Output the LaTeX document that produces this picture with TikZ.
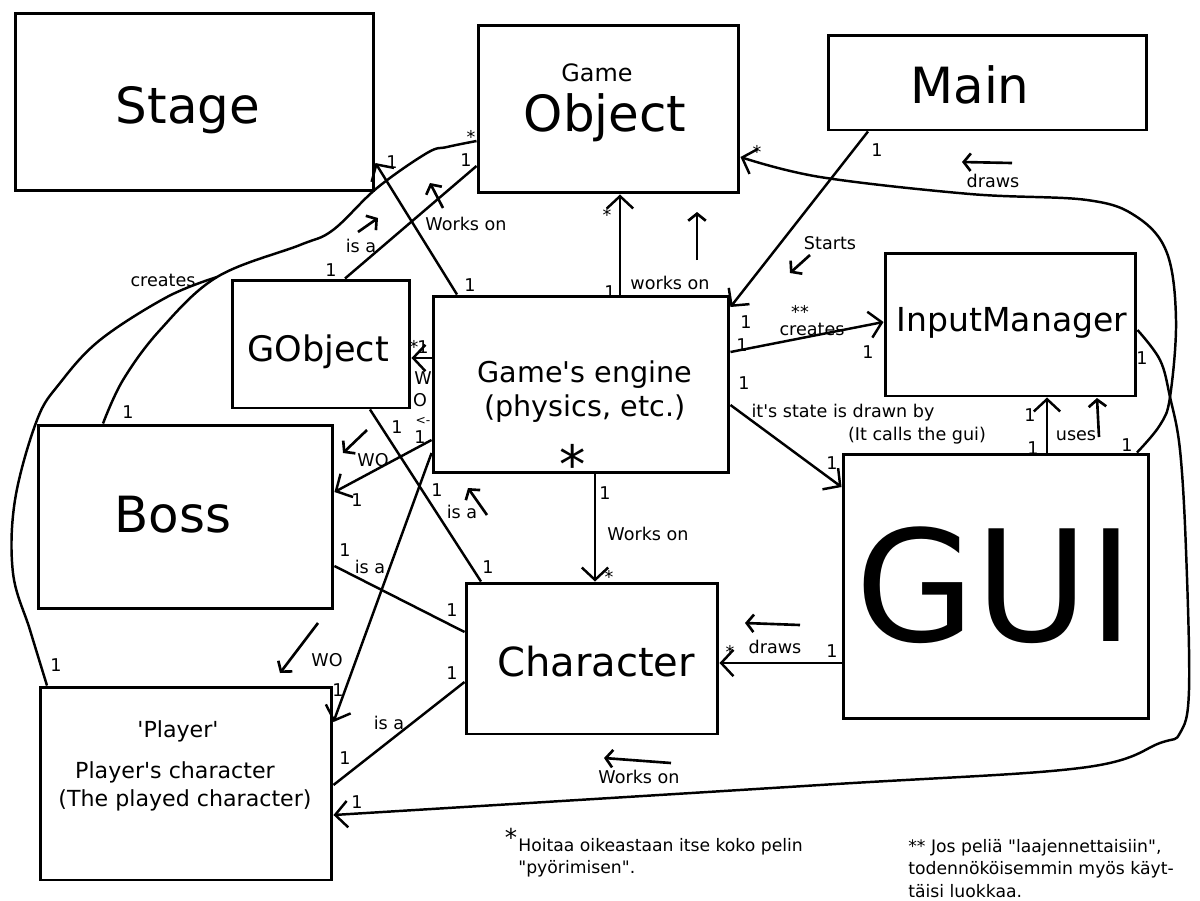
\documentclass[tikz,border=0pt]{standalone}
\usepackage{fontspec}
\setmainfont{DejaVu Sans}
\usepackage{tikz}
\usetikzlibrary{arrows.meta, positioning}
\tikzset{
  box/.style={rectangle, draw, line width=1.7pt, inner sep=0pt},
  conn/.style={line width=1.4pt},
  arrow/.style={conn, -{Straight Barb[length=7pt,width=15pt]}},
  hint/.style={line width=1.5pt, -{Straight Barb[length=4pt,width=10pt]}},
  bigname/.style={font=\fontsize{28.4}{34}\selectfont},
  midname/.style={font=\fontsize{20}{24}\selectfont},
  mult/.style={font=\fontsize{10}{12}\selectfont},
  note/.style={font=\fontsize{9.8}{12.8}\selectfont, align=left}
}

\begin{document}
\begin{tikzpicture}[x=0.02cm, y=-0.02cm, every node/.style={inner sep=0pt}]
  \useasboundingbox (0,0) rectangle (1200,900);
  \fill[white] (0,0) rectangle (1200,900);

  % Classes
  \node[box, minimum width=7.18cm, minimum height=3.56cm] (stage) at (194.5,102) {};
  \node[bigname] (stagename) at (188,110) {Stage};
  \node[box, minimum width=5.22cm, minimum height=3.36cm] (gameobj) at (608.5,109) {};
  \node[font=\fontsize{13.6}{16}\selectfont] (gameobjtop) at (597,73) {Game};
  \node[bigname] (gameobjname) at (605,118) {Object};
  \node[box, minimum width=6.38cm, minimum height=1.9cm] (main) at (987.5,82.5) {};
  \node[bigname] (mainname) at (970,85) {Main};
  \node[box, minimum width=3.56cm, minimum height=2.56cm] (gobject) at (321,344) {};
  \node[midname] (gobjectname) at (318,352) {GObject};
  \node[box, minimum width=5.92cm, minimum height=3.54cm] (engine) at (581,384.5) {};
  \node[font=\fontsize{16.3}{20}\selectfont] (enginename) at (585,375) {Game\textquotesingle s engine};
  \node[font=\fontsize{16.3}{20}\selectfont] (enginesub) at (585,409) {(physics, etc.)};
  \node[font=\fontsize{30}{34}\selectfont] (enginestar) at (573,464) {*};
  \node[box, minimum width=5.02cm, minimum height=2.86cm] (input) at (1010.5,324.5) {};
  \node[font=\fontsize{18.8}{22}\selectfont] (inputname) at (1012,323) {InputManager};
  \node[box, minimum width=5.9cm, minimum height=3.68cm] (boss) at (185.5,517) {};
  \node[bigname] (bossname) at (173,515) {Boss};
  \node[box, minimum width=6.12cm, minimum height=5.3cm] (gui) at (996,586.5) {};
  \node[font=\fontsize{88}{96}\selectfont] (guiname) at (995,585) {GUI};
  \node[box, minimum width=5.04cm, minimum height=3.02cm] (character) at (592,658.5) {};
  \node[font=\fontsize{22.8}{26}\selectfont] (charactername) at (596,662) {Character};
  \node[box, minimum width=5.84cm, minimum height=3.86cm] (player) at (186,783.5) {};
  \node[font=\fontsize{12.6}{15}\selectfont] (playertag) at (178,731) {\textquotesingle Player\textquotesingle};
  \node[font=\fontsize{12.6}{15}\selectfont] (playername) at (175,772) {Player\textquotesingle s character};
  \node[font=\fontsize{12.6}{15}\selectfont] (playersub) at (185,800) {(The played character)};

  % Connectors
  \coordinate (merge) at (217,277);
  \draw[arrow] (engine.north -| 457,0) -- (stage.east |- 0,163);
  \draw[conn] (gobject.north -| 345,0) -- (gameobj.west |- 0,166);
  \draw[conn] plot[smooth, tension=0.6] coordinates {(boss.north -| 103,0) (123,380) (160,330) (merge) (300,245) (333,230) (377,188) (427,153) (447,147) (gameobj.west |- 0,141)};
  \draw[conn] plot[smooth, tension=0.6] coordinates {(player.north -| 47,0) (30,630) (13,573) (15,500) (37,420) (60,383) (100,340) (167,297) (merge)};
  \draw[arrow] (engine.north -| 620,0) -- (gameobj.south -| 620,0);
  \draw[arrow] (main.south -| 868,0) -- (engine.east |- 0,307);
  \draw[arrow] (engine.east |- 0,352) -- (input.west |- 0,322);
  \draw[arrow] (engine.east |- 0,405) -- (gui.west |- 0,487);
  \draw[arrow] (gui.north -| 1047,0) -- (input.south -| 1047,0);
  \draw[arrow] plot[smooth, tension=0.6] coordinates {(gui.north -| 1137,0) (1160,425) (1170,397) (1176,320) (1167,253) (1137,217) (1087,200) (970,194) (820,177) (gameobj.east |- 0,157)};
  \draw[arrow] plot[smooth, tension=0.6] coordinates {(input.east |- 0,330) (1160,360) (1170,397) (1180,450) (1186,550) (1189,690) (1180,733) (1160,743) (1080,768) (820,785) (player.east |- 0,815)};
  \draw[arrow] (gui.west |- 0,663) -- (character.east |- 0,663);
  \draw[arrow] (engine.south -| 595,0) -- (character.north -| 595,0);
  \draw[arrow] (engine.west |- 0,358) -- (gobject.east |- 0,358);
  \draw[arrow] (engine.west |- 0,440) -- (boss.east |- 0,492);
  \draw[arrow] (engine.west |- 0,453) -- (player.east |- 0,722);
  \draw[conn] (gobject.south -| 370,0) -- (character.north -| 481,0);
  \draw[conn] (boss.east |- 0,566) -- (character.west |- 0,632);
  \draw[conn] (player.east |- 0,785) -- (character.west |- 0,682);

  % Direction hints
  \draw[hint] (443,208) -- (430,183);
  \draw[hint] (358,232) -- (378,218);
  \draw[hint] (697,260) -- (697,212);
  \draw[hint] (810,255) -- (790,273);
  \draw[hint] (1099,437) -- (1097,398);
  \draw[hint] (1012,163) -- (962,162);
  \draw[hint] (800,625) -- (745,623);
  \draw[hint] (671,763) -- (604,758);
  \draw[hint] (367,430) -- (343,453);
  \draw[hint] (318,623) -- (280,673);
  \draw[hint] (487,515) -- (468,488);

  % Multiplicities
  \foreach \px/\py [count=\k] in {392/162, 470/285, 331/270, 466/160, 128/412, 56/665,
      610/292, 877/150, 746/322, 742/345, 868/352, 744/383, 832/463, 1030/415,
      1033/448, 1127/445, 1142/358, 357/802, 832/651, 605/493, 423/347, 420/437,
      357/500, 437/490, 338/690, 397/427, 488/567, 345/550, 452/610, 452/673, 345/758}
    \node[mult] (one\k) at (\px,\py) {1};
  \foreach \px/\py [count=\k] in {471/137, 607/215, 757/152, 730/652, 609/577, 414/347}
    \node[mult] (many\k) at (\px,\py) {*};

  % Connector labels
  \node[mult] (lworksstage) at (466,224) {Works on};
  \node[mult] (lisagobj) at (361,246) {is a};
  \node[mult] (lcreates) at (163,280) {creates};
  \node[mult] (lworksobj) at (670,283) {works on};
  \node[mult] (lstarts) at (830,243) {Starts};
  \node[mult] (lstars) at (800,312) {**};
  \node[mult] (lcreatesinput) at (812,329) {creates};
  \node[mult] (lstate) at (843,413) {it\textquotesingle s state is drawn by};
  \node[mult] (lcalls) at (917,436) {(It calls the gui)};
  \node[mult] (luses) at (1076,436) {uses};
  \node[mult] (ldrawsobj) at (993,181) {draws};
  \node[mult] (lworksplayer) at (639,777) {Works on};
  \node[mult] (ldrawschar) at (775,647) {draws};
  \node[mult] (lworkschar) at (648,534) {Works on};
  \node[mult] (lw) at (423,378) {W};
  \node[mult] (lo) at (420,400) {O};
  \node[font=\fontsize{7}{8}\selectfont] (lback) at (423,421) {<-};
  \node[mult] (lwoboss) at (373,460) {WO};
  \node[mult] (lwoplayer) at (327,660) {WO};
  \node[mult] (lisachar) at (462,512) {is a};
  \node[mult] (lisaboss) at (370,567) {is a};
  \node[mult] (lisaplayer) at (389,723) {is a};

  % Footnotes
  \node[font=\fontsize{14}{16}\selectfont] (fnstar) at (511,837) {*};
  \node[note, anchor=north west] (fnengine) at (518,838) {Hoitaa oikeastaan itse koko pelin\\\textquotedbl pyörimisen\textquotedbl.};
  \node[note, anchor=north west] (fninput) at (908,839) {** Jos peliä \textquotedbl laajennettaisiin\textquotedbl,\\todennököisemmin myös käyt-\\täisi luokkaa.};
\end{tikzpicture}
\end{document}
